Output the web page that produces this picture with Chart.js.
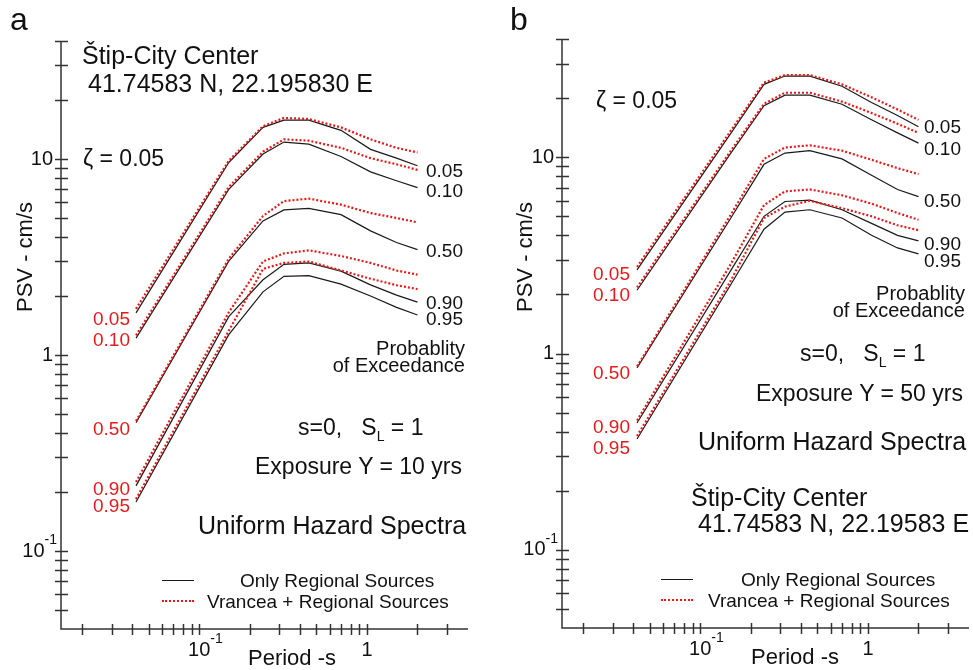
<!DOCTYPE html>
<html lang="en">
<head>
<meta charset="UTF-8">
<title>Uniform Hazard Spectra</title>
<style>
    body {
        margin: 0;
        background: #fff;
        font-family: "Liberation Sans", Arial, sans-serif;
    }
    #page {
        position: relative;
        width: 973px;
        height: 670px;
        overflow: hidden;
    }
    .panel {
        position: absolute;
        top: 0;
    }
    .txt {
        position: absolute;
        white-space: nowrap;
        line-height: 1;
        color: #111;
        transform: translateY(-50%);
    }
    .r { transform: translate(-100%, -50%); }
    .red { color: #e31b1b; }
    .sub { font-size: 14px; position: relative; top: 6px; }
    .leg-solid, .leg-dot {
        position: absolute;
        width: 32px;
        height: 0;
    }
    .leg-solid { border-top: 1.3px solid #1a1a1a; }
    .leg-dot { border-top: 2px dotted #e31b1b; }
    .ytitle {
        position: absolute;
        white-space: nowrap;
        font-size: 22px;
        line-height: 1;
        color: #111;
        transform: translate(-50%, -50%) rotate(-90deg);
    }
    .xtitle {
        position: absolute;
        white-space: nowrap;
        font-size: 22px;
        line-height: 1;
        color: #111;
        transform: translate(-50%, -50%);
    }
</style>
</head>
<body>
<div id="page">
    <div class="panel" style="left:0;width:490px;height:670px">
        <canvas id="chart-a" width="490" height="670"></canvas>
    </div>
    <div class="panel" style="left:490px;width:483px;height:670px">
        <canvas id="chart-b" width="483" height="670"></canvas>
    </div>

    <!-- panel a -->
    <div class="txt" style="left:10px;top:19px;font-size:32px">a</div>
    <div class="ytitle" style="left:25px;top:257px">PSV - cm/s</div>
    <div class="xtitle" style="left:292px;top:658px">Period -s</div>
    <div class="txt" style="left:82px;top:55px;font-size:25px">Štip-City Center</div>
    <div class="txt" style="left:88px;top:83px;font-size:25px">41.74583 N, 22.195830 E</div>
    <div class="txt" style="left:83px;top:158px;font-size:23px">ζ = 0.05</div>
    <div class="txt" style="left:426px;top:170px;font-size:19px">0.05</div>
    <div class="txt" style="left:426px;top:190px;font-size:19px">0.10</div>
    <div class="txt" style="left:426px;top:250px;font-size:19px">0.50</div>
    <div class="txt" style="left:426px;top:302px;font-size:19px">0.90</div>
    <div class="txt" style="left:426px;top:318px;font-size:19px">0.95</div>
    <div class="txt r red" style="left:130px;top:318px;font-size:19px">0.05</div>
    <div class="txt r red" style="left:130px;top:339px;font-size:19px">0.10</div>
    <div class="txt r red" style="left:130px;top:428px;font-size:19px">0.50</div>
    <div class="txt r red" style="left:130px;top:488px;font-size:19px">0.90</div>
    <div class="txt r red" style="left:130px;top:505px;font-size:19px">0.95</div>
    <div class="txt r" style="left:465px;top:348px;font-size:20px">Probablity</div>
    <div class="txt r" style="left:465px;top:365px;font-size:20px">of Exceedance</div>
    <div class="txt" style="left:298px;top:427px;font-size:23px">s=0,&nbsp;&nbsp;&nbsp;S<span class="sub">L</span> = 1</div>
    <div class="txt" style="left:255px;top:466px;font-size:23px">Exposure Y = 10 yrs</div>
    <div class="txt" style="left:198px;top:525px;font-size:25px">Uniform Hazard Spectra</div>
    <div class="leg-solid" style="left:162px;top:580px"></div>
    <div class="txt" style="left:240px;top:580px;font-size:19px">Only Regional Sources</div>
    <div class="leg-dot" style="left:162px;top:600px"></div>
    <div class="txt" style="left:207px;top:601px;font-size:19px">Vrancea + Regional Sources</div>

    <!-- panel b -->
    <div class="txt" style="left:510px;top:19px;font-size:32px">b</div>
    <div class="ytitle" style="left:525px;top:257px">PSV - cm/s</div>
    <div class="xtitle" style="left:795px;top:657px">Period -s</div>
    <div class="txt" style="left:596px;top:100px;font-size:23px">ζ = 0.05</div>
    <div class="txt" style="left:924px;top:126px;font-size:19px">0.05</div>
    <div class="txt" style="left:924px;top:148px;font-size:19px">0.10</div>
    <div class="txt" style="left:924px;top:200px;font-size:19px">0.50</div>
    <div class="txt" style="left:924px;top:243px;font-size:19px">0.90</div>
    <div class="txt" style="left:924px;top:260px;font-size:19px">0.95</div>
    <div class="txt r red" style="left:630px;top:273px;font-size:19px">0.05</div>
    <div class="txt r red" style="left:630px;top:294px;font-size:19px">0.10</div>
    <div class="txt r red" style="left:630px;top:372px;font-size:19px">0.50</div>
    <div class="txt r red" style="left:630px;top:426px;font-size:19px">0.90</div>
    <div class="txt r red" style="left:630px;top:447px;font-size:19px">0.95</div>
    <div class="txt r" style="left:965px;top:293px;font-size:20px">Probablity</div>
    <div class="txt r" style="left:965px;top:310px;font-size:20px">of Exceedance</div>
    <div class="txt" style="left:800px;top:353px;font-size:23px">s=0,&nbsp;&nbsp;&nbsp;S<span class="sub">L</span> = 1</div>
    <div class="txt" style="left:756px;top:393px;font-size:23px">Exposure Y = 50 yrs</div>
    <div class="txt" style="left:698px;top:441px;font-size:25px">Uniform Hazard Spectra</div>
    <div class="txt" style="left:691px;top:497px;font-size:25px">Štip-City Center</div>
    <div class="txt" style="left:698px;top:523px;font-size:25px">41.74583 N, 22.19583 E</div>
    <div class="leg-solid" style="left:661px;top:579px"></div>
    <div class="txt" style="left:741px;top:579px;font-size:19px">Only Regional Sources</div>
    <div class="leg-dot" style="left:661px;top:599px"></div>
    <div class="txt" style="left:708px;top:600px;font-size:19px">Vrancea + Regional Sources</div>
</div>

<script src="https://cdn.jsdelivr.net/npm/chart.js"></script>
<script>
    const periods = [0.042, 0.15, 0.24, 0.32, 0.45, 0.7, 1.05, 1.5, 2.0];

    // panel a, exposure 10 yrs, PSV in cm/s
    const aOnly05 = [1.64, 9.6, 14.5, 15.8, 15.8, 14.0, 11.2, 10.1, 9.24];
    const aOnly10 = [1.22, 7.0, 10.6, 12.2, 11.9, 10.3, 8.6, 7.75, 7.15];
    const aOnly50 = [0.452, 3.01, 4.83, 5.5, 5.6, 5.2, 4.3, 3.75, 3.45];
    const aOnly90 = [0.215, 1.57, 2.42, 2.9, 2.95, 2.68, 2.28, 2.02, 1.86];
    const aOnly95 = [0.178, 1.27, 2.1, 2.52, 2.54, 2.3, 2.0, 1.75, 1.6];
    const aVran05 = [1.72, 9.8, 14.7, 16.2, 16.0, 14.5, 12.6, 11.4, 10.8];
    const aVran10 = [1.26, 7.2, 10.9, 12.6, 12.4, 11.4, 10.1, 9.4, 8.8];
    const aVran50 = [0.46, 3.1, 5.12, 6.1, 6.28, 5.85, 5.3, 5.0, 4.75];
    const aVran90 = [0.225, 1.65, 3.0, 3.3, 3.42, 3.2, 2.95, 2.7, 2.57];
    const aVran95 = [0.184, 1.33, 2.75, 2.95, 3.0, 2.7, 2.45, 2.27, 2.17];

    // panel b, exposure 50 yrs
    const bOnly05 = [2.67, 13.0, 23.5, 25.9, 25.9, 23.0, 19.0, 16.3, 14.3];
    const bOnly10 = [2.1, 10.3, 18.3, 20.7, 20.7, 18.6, 15.5, 13.3, 11.8];
    const bOnly50 = [0.845, 4.8, 9.2, 10.5, 10.8, 9.8, 8.1, 6.85, 6.3];
    const bOnly90 = [0.443, 2.6, 5.0, 5.95, 6.05, 5.4, 4.6, 4.0, 3.75];
    const bOnly95 = [0.367, 2.2, 4.3, 5.25, 5.4, 4.9, 4.0, 3.45, 3.22];
    const bVran05 = [2.76, 13.4, 24.0, 26.2, 26.2, 23.5, 20.2, 17.5, 15.5];
    const bVran10 = [2.17, 10.6, 18.7, 21.3, 21.3, 19.2, 16.8, 14.8, 13.3];
    const bVran50 = [0.86, 5.0, 9.8, 11.2, 11.5, 10.8, 9.7, 8.8, 8.2];
    const bVran90 = [0.456, 2.8, 5.7, 6.7, 6.85, 6.4, 5.8, 5.2, 4.8];
    const bVran95 = [0.38, 2.3, 4.9, 5.6, 6.0, 5.5, 5.0, 4.5, 4.25];

    const probs = ['0.05', '0.10', '0.50', '0.90', '0.95'];

    // axis ticks
    const xTickValues = [0.02, 0.03, 0.04, 0.05, 0.06, 0.07, 0.08, 0.09, 0.1,
        0.2, 0.3, 0.4, 0.5, 0.6, 0.7, 0.8, 0.9, 1, 2, 3];
    const yTickValues = [0.05, 0.06, 0.07, 0.08, 0.09, 0.1, 0.2, 0.3, 0.4, 0.5, 0.6, 0.7, 0.8, 0.9,
        1, 2, 3, 4, 5, 6, 7, 8, 9, 10, 20, 30, 40];
    const xTickLabels = [[0.1, '10', '-1'], [1, '1', '']];
    const yTickLabels = [[0.1, '10', '-1'], [1, '1', ''], [10, '10', '']];

    const RED = '#e31b1b';
    const BLACK = '#1a1a1a';

    // left and bottom axes with ticks crossing the axis line
    const crossAxes = {
        id: 'crossAxes',
        afterDraw(chart) {
            const { ctx, chartArea: a, scales: { x, y } } = chart;
            ctx.save();
            ctx.strokeStyle = '#333';
            ctx.lineWidth = 1.5;
            ctx.beginPath();
            ctx.moveTo(a.left, a.top);
            ctx.lineTo(a.left, a.bottom);
            ctx.lineTo(a.right, a.bottom);
            yTickValues.forEach(v => {
                const py = Math.round(y.getPixelForValue(v)) + 0.5;
                ctx.moveTo(a.left - 6, py);
                ctx.lineTo(a.left + 7, py);
            });
            xTickValues.forEach(v => {
                const px = Math.round(x.getPixelForValue(v)) + 0.5;
                ctx.moveTo(px, a.bottom - 5);
                ctx.lineTo(px, a.bottom + 6);
            });
            ctx.stroke();

            ctx.fillStyle = '#111';
            ctx.textBaseline = 'middle';
            const base = '20px "Liberation Sans", Arial, sans-serif';
            const sup = '14px "Liberation Sans", Arial, sans-serif';
            yTickLabels.forEach(([v, t, s]) => {
                const py = y.getPixelForValue(v);
                ctx.textAlign = 'right';
                if (s) {
                    ctx.font = sup;
                    ctx.fillText(s, a.left - 4, py - 11);
                    const w = ctx.measureText(s).width;
                    ctx.font = base;
                    ctx.fillText(t, a.left - 4 - w, py);
                } else {
                    ctx.font = base;
                    ctx.fillText(t, a.left - 8, py);
                }
            });
            xTickLabels.forEach(([v, t, s]) => {
                const px = x.getPixelForValue(v);
                ctx.font = base;
                ctx.textAlign = 'center';
                ctx.fillText(t, px, a.bottom + 21);
                if (s) {
                    const w = ctx.measureText(t).width;
                    ctx.font = sup;
                    ctx.textAlign = 'left';
                    ctx.fillText(s, px + w / 2, a.bottom + 10);
                }
            });
            ctx.restore();
        }
    };

    function series(values) {
        return periods.map((t, i) => ({ x: t, y: values[i] }));
    }

    function makeChart(id, only, vran, pad) {
        const datasets = [];
        probs.forEach((p, i) => {
            datasets.push({
                label: 'Vrancea + Regional Sources ' + p,
                data: series(vran[i]),
                borderColor: RED,
                borderWidth: 2.2,
                borderDash: [2, 2],
                pointRadius: 0,
                order: 0
            });
            datasets.push({
                label: 'Only Regional Sources ' + p,
                data: series(only[i]),
                borderColor: BLACK,
                borderWidth: 1.2,
                pointRadius: 0,
                order: 1
            });
        });
        return new Chart(document.getElementById(id), {
            type: 'line',
            data: { datasets },
            options: {
                responsive: false,
                animation: false,
                layout: { padding: pad },
                plugins: {
                    legend: { display: false },
                    tooltip: { enabled: false }
                },
                scales: {
                    x: { type: 'logarithmic', min: 0.015, max: 4, display: false },
                    y: { type: 'logarithmic', min: 0.04, max: 40, display: false }
                }
            },
            plugins: [crossAxes]
        });
    }

    makeChart('chart-a',
        [aOnly05, aOnly10, aOnly50, aOnly90, aOnly95],
        [aVran05, aVran10, aVran50, aVran90, aVran95],
        { left: 61, right: 22, top: 41, bottom: 41 });

    makeChart('chart-b',
        [bOnly05, bOnly10, bOnly50, bOnly90, bOnly95],
        [bVran05, bVran10, bVran50, bVran90, bVran95],
        { left: 72, right: 4, top: 39, bottom: 42 });
</script>
</body>
</html>
